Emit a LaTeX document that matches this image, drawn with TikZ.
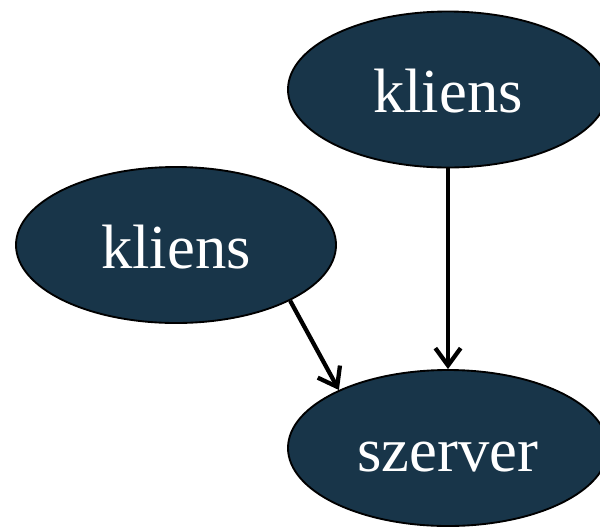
\documentclass[tikz,border=0pt]{standalone}
\usepackage{fontspec}
\setmainfont{Liberation Serif}
\usetikzlibrary{shapes.geometric,arrows.meta}
\definecolor{navy}{RGB}{24,53,73}
\begin{document}
\begin{tikzpicture}[x=0.75pt,y=-0.75pt,
  ell/.style={ellipse,draw=black,line width=1.4pt,fill=navy,text=white,
    minimum width=240pt,minimum height=117pt,inner sep=0pt,
    text height=35pt,text depth=0pt,font=\fontsize{47}{50}\selectfont},
  arr/.style={line width=3.2pt,-{Straight Barb[length=13pt,width=19pt,line width=3.2pt]}}]
\useasboundingbox (0,0) rectangle (600,526);
\node[ell] (k1) at (448,89.5) {kliens};
\node[ell] (k2) at (176,245) {kliens};
\node[ell] (s) at (448,448) {szerver};
\draw[arr] (k1.south) -- (s.north);
\draw[arr] (k2.-26.6) -- (s.152.8);
\end{tikzpicture}
\end{document}
